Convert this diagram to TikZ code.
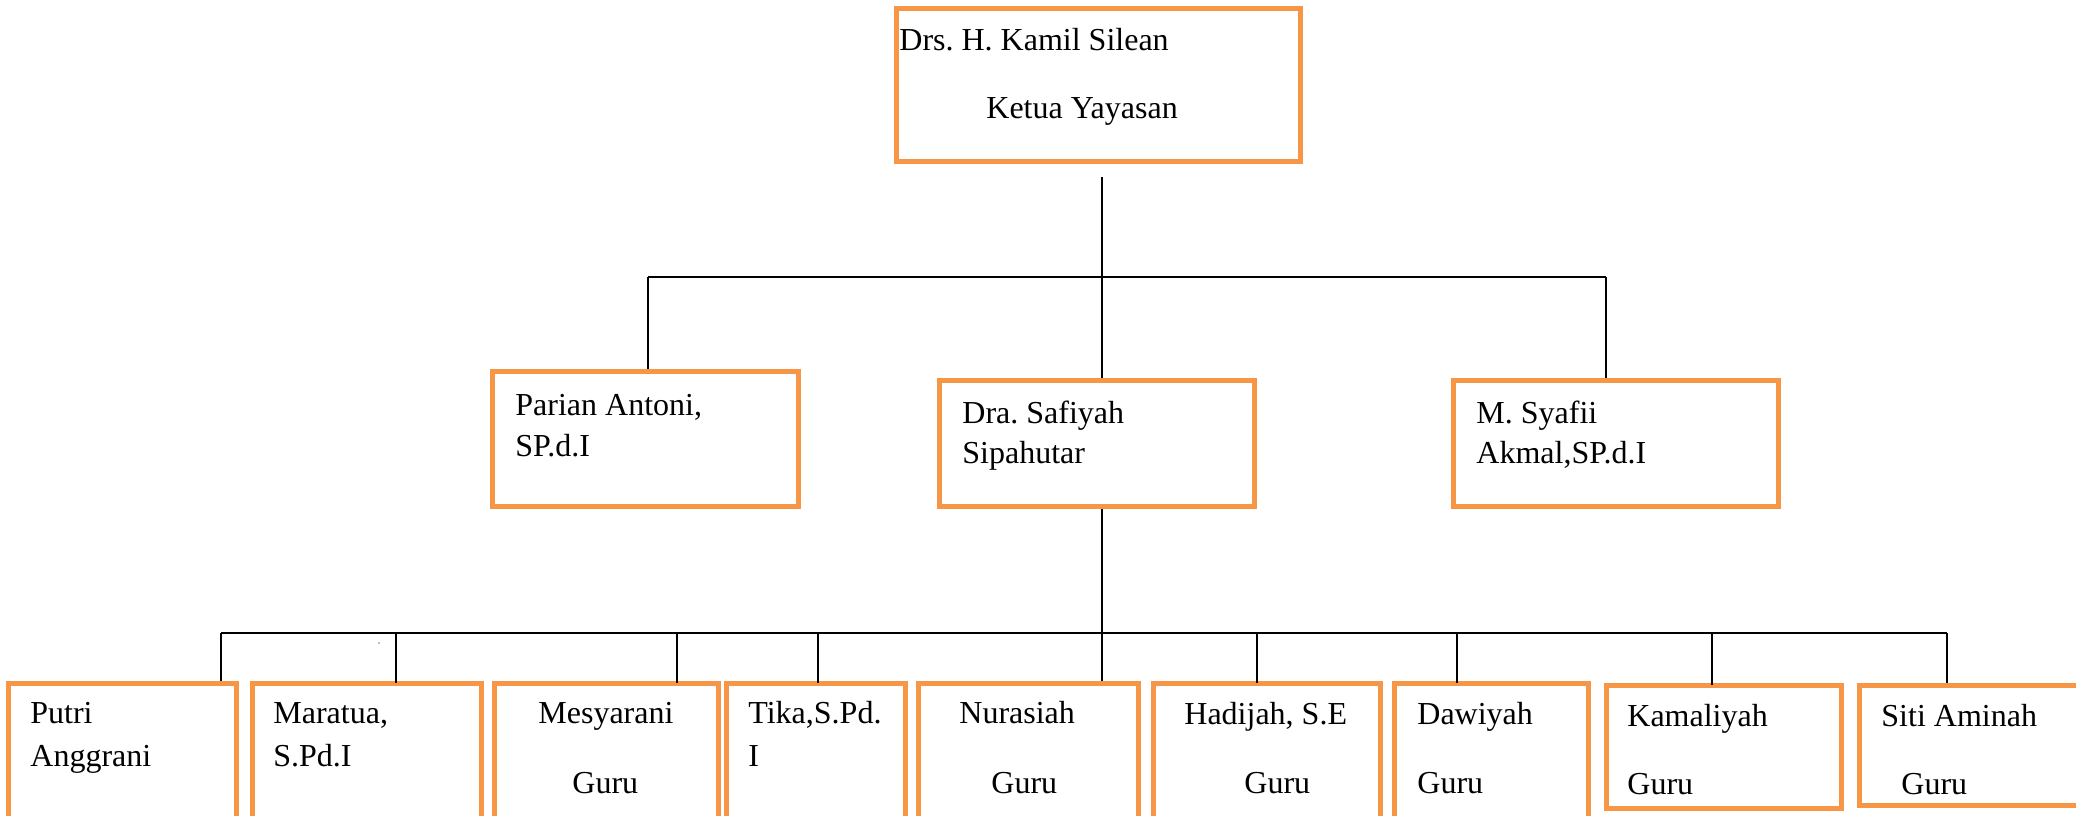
\documentclass[tikz,border=0pt]{standalone}
\usepackage{fontspec}
\setmainfont{Liberation Serif}
\usetikzlibrary{fit}
\definecolor{boxorange}{HTML}{F79646}
\frenchspacing
\begin{document}
\begin{tikzpicture}[x=0.5pt,y=-0.5pt,
  box/.style={draw=boxorange, line width=2.5pt, inner sep=0pt, rectangle},
  txt/.style={anchor=base west, inner sep=0pt, font=\fontsize{16pt}{19pt}\selectfont\frenchspacing},
  conn/.style={draw=black, line width=1pt}]
\useasboundingbox (0,0) rectangle (2076,815);
% boxes
\node[box, fit={(896,8.5) (1300.5,161.5)}] (ketua) {};
\node[box, fit={(492,371) (798,506)}] (parian) {};
\node[box, fit={(939,380) (1254,506)}] (safiyah) {};
\node[box, fit={(1453,380) (1778,506)}] (syafii) {};
\node[box, fit={(8,683) (236,840)}] (putri) {};
\node[box, fit={(252,683) (481,840)}] (maratua) {};
\node[box, fit={(494,683) (718,840)}] (mesyarani) {};
\node[box, fit={(726,683) (905,840)}] (tika) {};
\node[box, fit={(918,683) (1138,840)}] (nurasiah) {};
\node[box, fit={(1153,683) (1380,840)}] (hadijah) {};
\node[box, fit={(1394,683) (1588,840)}] (dawiyah) {};
\node[box, fit={(1606,685) (1841,808)}] (kamaliyah) {};
\node[box, fit={(1859,685) (2090,805)}] (siti) {};
% texts
\node[txt] (t1a) at (899,50) {Drs. H. Kamil Silean};
\node[txt] (t1b) at (986,118) {Ketua Yayasan};
\node[txt] (t2a) at (515,415) {Parian Antoni,};
\node[txt] (t2b) at (515,456) {SP.d.I};
\node[txt] (t3a) at (962,423) {Dra. Safiyah};
\node[txt] (t3b) at (962,463) {Sipahutar};
\node[txt] (t4a) at (1476,423) {M. Syafii};
\node[txt] (t4b) at (1476,463) {Akmal,SP.d.I};
\node[txt] (b1a) at (30,723) {Putri};
\node[txt] (b1b) at (30,766) {Anggrani};
\node[txt] (b2a) at (273,723) {Maratua,};
\node[txt] (b2b) at (273,766) {S.Pd.I};
\node[txt] (b3a) at (538,723) {Mesyarani};
\node[txt] (b3b) at (572,793) {Guru};
\node[txt] (b4a) at (748,723) {Tika,S.Pd.};
\node[txt] (b4b) at (748,766) {I};
\node[txt] (b5a) at (959,723) {Nurasiah};
\node[txt] (b5b) at (991,793) {Guru};
\node[txt] (b6a) at (1184,724) {Hadijah, S.E};
\node[txt] (b6b) at (1244,793) {Guru};
\node[txt] (b7a) at (1417,724) {Dawiyah};
\node[txt] (b7b) at (1417,793) {Guru};
\node[txt] (b8a) at (1627,726) {Kamaliyah};
\node[txt] (b8b) at (1627,794) {Guru};
\node[txt] (b9a) at (1881,726) {Siti Aminah};
\node[txt] (b9b) at (1901,794) {Guru};
% junction coordinates
\coordinate (top0) at (1102,177);
\coordinate (busA) at (1102,277);
\coordinate (busAL) at (648,277);
\coordinate (busAR) at (1606,277);
\coordinate (busB) at (1102,633);
\coordinate (busBL) at (221,633);
\coordinate (busBR) at (1947,633);
% connectors
\draw[conn] (top0) -- (busA);
\draw[conn] (busAL) -- (busAR);
\draw[conn] (busAL) -- (busAL |- parian.north);
\draw[conn] (busA) -- (busA |- safiyah.north);
\draw[conn] (busAR) -- (busAR |- syafii.north);
\draw[conn] (busB |- safiyah.south) -- (busB |- nurasiah.north);
\draw[conn] (busBL) -- (busBR);
\draw[conn] (busBL) -- (busBL |- putri.north);
\draw[conn] (396,633) -- (396,683);
\draw[conn] (677,633) -- (677,683);
\draw[conn] (818,633) -- (818,683);
\draw[conn] (1257,633) -- (1257,683);
\draw[conn] (1457,633) -- (1457,683);
\draw[conn] (1712,633) -- (1712,685);
\draw[conn] (busBR) -- (busBR |- siti.north);
\fill[gray] (379,643) circle (0.8);
\end{tikzpicture}
\end{document}
